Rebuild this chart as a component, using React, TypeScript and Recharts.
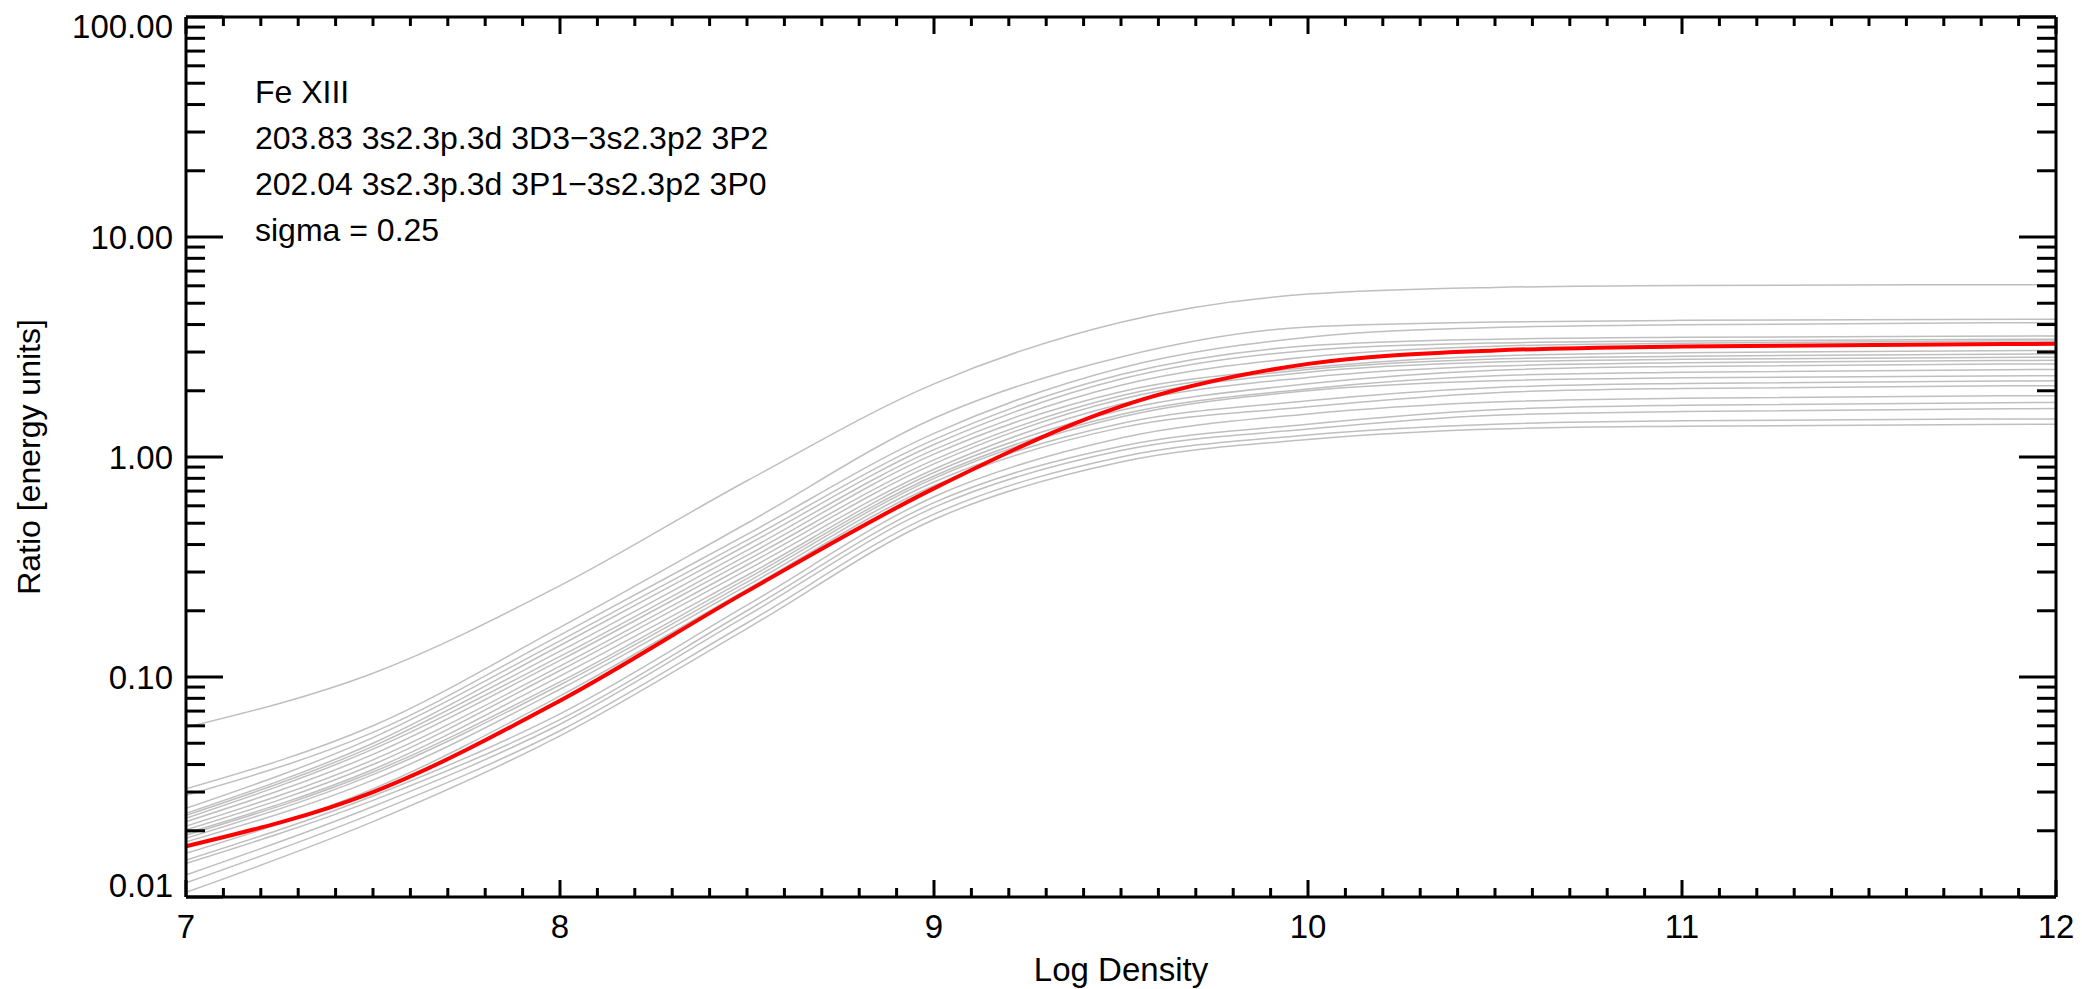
import { LineChart, Line, XAxis, YAxis } from "recharts";

// log10 electron density grid
const logDensity = [7, 7.5, 8, 8.5, 9, 9.5, 10, 10.5, 11, 12];

// ratio for the nominal atomic data (red)
const bestRatio = [0.017, 0.03, 0.078, 0.245, 0.72, 1.7, 2.65, 3.05, 3.18, 3.27];

// ratios from the perturbed (sigma = 0.25) atomic data sets (grey)
const mcRatios = [
  [0.059, 0.104, 0.26, 0.78, 2.15, 4.1, 5.5, 5.9, 6.02, 6.07],
  [0.031, 0.06, 0.168, 0.5, 1.5, 2.85, 3.9, 4.11, 4.18, 4.23],
  [0.029, 0.056, 0.155, 0.445, 1.28, 2.54, 3.5, 3.88, 3.99, 4.08],
  [0.0253, 0.053, 0.146, 0.419, 1.2, 2.37, 3.2, 3.43, 3.5, 3.55],
  [0.024, 0.05, 0.139, 0.398, 1.14, 2.26, 3.05, 3.3, 3.37, 3.43],
  [0.0235, 0.0484, 0.131, 0.376, 1.08, 2.12, 2.85, 3.19, 3.29, 3.37],
  [0.0228, 0.047, 0.124, 0.357, 1.03, 1.98, 2.55, 2.88, 2.98, 3.05],
  [0.022, 0.0445, 0.119, 0.34, 0.97, 1.9, 2.5, 2.79, 2.87, 2.94],
  [0.021, 0.042, 0.112, 0.323, 0.93, 1.83, 2.43, 2.7, 2.78, 2.84],
  [0.0202, 0.04, 0.107, 0.307, 0.88, 1.74, 2.3, 2.59, 2.68, 2.75],
  [0.0195, 0.038, 0.101, 0.29, 0.85, 1.63, 2.15, 2.48, 2.58, 2.65],
  [0.0191, 0.037, 0.095, 0.28, 0.82, 1.56, 2.04, 2.34, 2.43, 2.5],
  [0.0185, 0.036, 0.092, 0.27, 0.8, 1.52, 2.0, 2.22, 2.29, 2.34],
  [0.0178, 0.034, 0.088, 0.26, 0.77, 1.42, 1.8, 2.07, 2.16, 2.22],
  [0.0158, 0.031, 0.082, 0.25, 0.74, 1.36, 1.69, 1.96, 2.05, 2.11],
  [0.0147, 0.0288, 0.068, 0.212, 0.66, 1.22, 1.57, 1.78, 1.85, 1.9],
  [0.0142, 0.0275, 0.064, 0.2, 0.62, 1.12, 1.41, 1.64, 1.72, 1.77],
  [0.0126, 0.0258, 0.061, 0.19, 0.59, 1.07, 1.34, 1.55, 1.61, 1.66],
  [0.0116, 0.024, 0.057, 0.176, 0.55, 1.0, 1.26, 1.41, 1.46, 1.49],
  [0.0105, 0.022, 0.054, 0.166, 0.52, 0.95, 1.2, 1.34, 1.38, 1.41],
];

const yMajor = [0.01, 0.1, 1, 10, 100];
const yMinor = [
  0.02, 0.03, 0.04, 0.05, 0.06, 0.07, 0.08, 0.09,
  0.2, 0.3, 0.4, 0.5, 0.6, 0.7, 0.8, 0.9,
  2, 3, 4, 5, 6, 7, 8, 9,
  20, 30, 40, 50, 60, 70, 80, 90,
];
const xMajor = [7, 8, 9, 10, 11, 12];
const xMinor: number[] = [];
for (let i = 71; i < 120; i++) if (i % 10 !== 0) xMinor.push(i / 10);

const annotation = [
  "Fe XIII",
  "203.83 3s2.3p.3d 3D3\u22123s2.3p2 3P2",
  "202.04 3s2.3p.3d 3P1\u22123s2.3p2 3P0",
  "sigma = 0.25",
];

const rows = logDensity.map((x, i) => {
  const row: Record<string, number> = { x, best: bestRatio[i] };
  mcRatios.forEach((s, k) => {
    row["mc" + k] = s[i];
  });
  return row;
});

const FONT = "'Liberation Sans', Arial, Helvetica, sans-serif";
const FS = 33;

const isMajorY = (v: number) => yMajor.includes(v);
const isMajorX = (v: number) => xMajor.includes(v);

function LeftTick(props: any) {
  const { x, y, payload } = props;
  const v = payload.value;
  const major = isMajorY(v);
  // end labels are nudged inside the frame, like the original plot
  const shift = v === 100 ? 9 : v === 0.01 ? -12 : 0;
  return (
    <g>
      <line x1={x} x2={x + (major ? 37 : 19)} y1={y} y2={y} stroke="#000" strokeWidth={3} />
      {major && (
        <text x={x - 13} y={y + shift} textAnchor="end" dominantBaseline="central" fontFamily={FONT} fontSize={FS} fill="#000">
          {v.toFixed(2)}
        </text>
      )}
    </g>
  );
}

function RightTick(props: any) {
  const { x, y, payload } = props;
  const major = isMajorY(payload.value);
  return <line x1={x} x2={x - (major ? 37 : 19)} y1={y} y2={y} stroke="#000" strokeWidth={3} />;
}

function BottomTick(props: any) {
  const { x, y, payload } = props;
  const v = payload.value;
  const major = isMajorX(v);
  return (
    <g>
      <line x1={x} x2={x} y1={y} y2={y - (major ? 17 : 9)} stroke="#000" strokeWidth={3} />
      {major && (
        <text x={x} y={y + 29} textAnchor="middle" dominantBaseline="central" fontFamily={FONT} fontSize={FS} fill="#000">
          {v}
        </text>
      )}
    </g>
  );
}

function TopTick(props: any) {
  const { x, y, payload } = props;
  const major = isMajorX(payload.value);
  return <line x1={x} x2={x} y1={y} y2={y + (major ? 17 : 9)} stroke="#000" strokeWidth={3} />;
}

export default function App() {
  const axisLine = { stroke: "#000", strokeWidth: 3 };
  return (
    <div style={{ position: "absolute", left: 0, top: 0, width: 2082, height: 989, background: "#fff", fontFamily: FONT }}>
      <LineChart width={2082} height={989} data={rows} margin={{ top: 16, right: 25, bottom: 91, left: 185 }}>
        <XAxis
          type="number"
          dataKey="x"
          domain={[7, 12]}
          ticks={[...xMajor, ...xMinor]}
          interval={0}
          height={1}
          tickSize={0}
          tickMargin={0}
          tickLine={false}
          axisLine={axisLine}
          tick={<BottomTick />}
        />
        <XAxis
          xAxisId="top"
          orientation="top"
          type="number"
          dataKey="x"
          domain={[7, 12]}
          ticks={[...xMajor, ...xMinor]}
          interval={0}
          height={1}
          tickSize={0}
          tickMargin={0}
          tickLine={false}
          axisLine={axisLine}
          tick={<TopTick />}
        />
        <YAxis
          scale="log"
          domain={[0.01, 100]}
          ticks={[...yMajor, ...yMinor]}
          interval={0}
          width={1}
          tickSize={0}
          tickMargin={0}
          tickLine={false}
          axisLine={axisLine}
          tick={<LeftTick />}
          allowDataOverflow
        />
        <YAxis
          yAxisId="right"
          orientation="right"
          scale="log"
          domain={[0.01, 100]}
          ticks={[...yMajor, ...yMinor]}
          interval={0}
          width={1}
          tickSize={0}
          tickMargin={0}
          tickLine={false}
          axisLine={axisLine}
          tick={<RightTick />}
          allowDataOverflow
        />
        {mcRatios.map((_, k) => (
          <Line
            key={k}
            type="monotone"
            dataKey={"mc" + k}
            stroke="#bfbfbf"
            strokeWidth={1.5}
            dot={false}
            activeDot={false}
            isAnimationActive={false}
          />
        ))}
        <Line
          type="monotone"
          dataKey="best"
          stroke="#ff0000"
          strokeWidth={4}
          dot={false}
          activeDot={false}
          isAnimationActive={false}
        />
      </LineChart>

      <div style={{ position: "absolute", left: 255, top: 69, fontSize: 32, lineHeight: "46px", color: "#000", whiteSpace: "pre" }}>
        {annotation.map((t) => (
          <div key={t}>{t}</div>
        ))}
      </div>
      <div
        style={{
          position: "absolute",
          left: 29,
          top: 457,
          transform: "translate(-50%, -50%) rotate(-90deg)",
          fontSize: 32,
          whiteSpace: "nowrap",
          color: "#000",
        }}
      >
        Ratio [energy units]
      </div>
      <div
        style={{
          position: "absolute",
          left: 1121,
          top: 970,
          transform: "translate(-50%, -50%)",
          fontSize: FS,
          whiteSpace: "nowrap",
          color: "#000",
        }}
      >
        Log Density
      </div>
    </div>
  );
}
